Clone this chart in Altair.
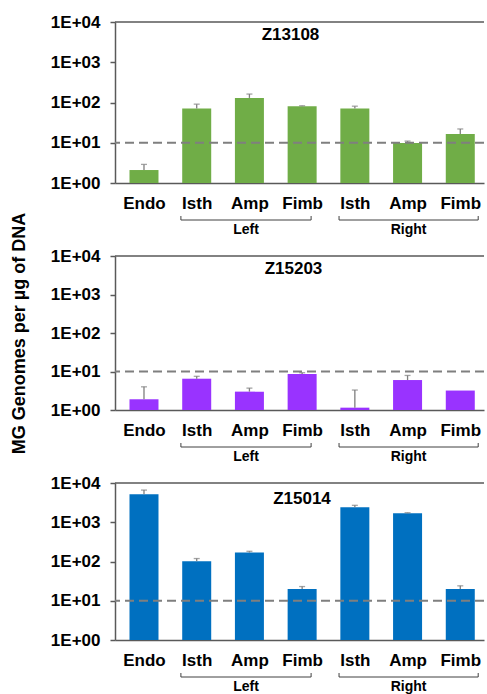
import altair as alt
import pandas as pd

# ---------------- data ----------------
categories = ["Endo", "Isth", "Amp", "Fimb", "Isth", "Amp", "Fimb"]
groups = ["Left", "Right"]
group_members = [[1, 2, 3], [4, 5, 6]]

strains = ["Z13108", "Z15203", "Z15014"]
z13108_mean = [2.1, 71, 130, 81, 71, 9.8, 16.5]
z13108_upper = [2.9, 91, 162, 83, 81, 11, 22]
z15203_mean = [1.9, 6.5, 3.0, 8.6, 1.15, 6.0, 3.2]
z15203_upper = [4.0, 7.5, 3.7, 9.3, 3.3, 7.9, 3.2]
z15014_mean = [5150, 102, 169, 20, 2400, 1700, 20]
z15014_upper = [6600, 119, 182, 23, 2700, 1750, 24]
threshold = 10
y_ticks = [1, 10, 100, 1000, 10000]

# ---------------- style ----------------
FONT = "Liberation Sans"
AXIS_COL = "#595959"
ERR_COL = "#7f7f7f"
W = 369
Y_TITLE = "MG Genomes per µg of DNA"

label_expr = "[" + ",".join("'%s'" % c for c in categories) + "][datum.value]"


def xenc(field):
    return alt.X(
        field,
        type="quantitative",
        scale=alt.Scale(domain=[-0.55, 6.45], nice=False, zero=False, padding=0),
        axis=alt.Axis(
            values=list(range(len(categories))),
            labelExpr=label_expr,
            ticks=False,
            tickSize=0,
            grid=False,
            title=None,
            labelFont=FONT,
            labelFontSize=17,
            labelFontWeight="bold",
            labelColor="black",
            labelPadding=12,
            labelFlush=False,
            labelOverlap=False,
            domainColor=AXIS_COL,
            domainWidth=1.5,
        ),
    )


def yenc(field, title):
    kw = dict(
        values=y_ticks,
        labelExpr="'1E+0' + round(log(datum.value) / LN10)",
        grid=False,
        tickSize=5,
        tickColor=AXIS_COL,
        tickWidth=1.5,
        labelFont=FONT,
        labelFontSize=17,
        labelFontWeight="bold",
        labelColor="black",
        labelPadding=10,
        domainColor=AXIS_COL,
        domainWidth=1.5,
    )
    if title:
        kw.update(title=title, titleFont=FONT, titleFontSize=18, titleFontWeight="bold",
                  titleColor="black", titlePadding=22)
    else:
        kw.update(title=None)
    return alt.Y(
        field,
        type="quantitative",
        stack=None,
        scale=alt.Scale(type="log", domain=[1, 10000], nice=False, padding=0),
        axis=alt.Axis(**kw),
    )


def panel(name, mean, upper, color, h, tx, ty, ytitle):
    df = pd.DataFrame({"idx": list(range(len(categories))), "cat": categories,
                       "value": mean, "hi": upper, "base": [1] * len(categories)})
    base = alt.Chart(df)
    bars = base.mark_bar(size=29, color=color, orient="vertical").encode(
        x=xenc("idx"), y=yenc("value", ytitle), y2="base:Q")
    err = base.transform_filter("datum.hi > datum.value").mark_rule(
        color=ERR_COL, strokeWidth=1.3).encode(
        x=xenc("idx"), y=yenc("value", ytitle), y2="hi:Q")
    cap = base.transform_filter("datum.hi > datum.value").mark_tick(
        orient="horizontal", size=6, thickness=1.3, color=ERR_COL).encode(
        x=xenc("idx"), y=yenc("hi", ytitle))
    thr = alt.Chart(pd.DataFrame({"t": [threshold]})).mark_rule(
        color=ERR_COL, strokeWidth=2, strokeDash=[9, 5]).encode(y=yenc("t", ytitle))
    top = alt.Chart(pd.DataFrame({"t": [y_ticks[-1]]})).mark_rule(
        color=AXIS_COL, strokeWidth=1.5).encode(y=yenc("t", ytitle))
    title = alt.Chart(pd.DataFrame({"name": [name]})).mark_text(
        font=FONT, fontSize=17, fontWeight="bold", color="black").encode(
        text="name:N", x=alt.value(tx), y=alt.value(ty))

    starts = [m[0] - 0.3 for m in group_members]
    ends = [m[-1] + 0.17 if i == 0 else m[-1] + 0.34 for i, m in enumerate(group_members)]
    bdf = pd.DataFrame({"group": groups, "start": starts, "end": ends,
                        "mid": [(a + b) / 2 for a, b in zip(starts, ends)]})
    edf = pd.DataFrame({"pos": starts + ends})
    bline = alt.Chart(bdf).mark_rule(color="#404040", strokeWidth=1).encode(
        x=xenc("start"), x2="end:Q", y=alt.value(h + 37))
    bends = alt.Chart(edf).mark_rule(color="#404040", strokeWidth=1).encode(
        x=xenc("pos"), y=alt.value(h + 33), y2=alt.value(h + 37))
    blab = alt.Chart(bdf).mark_text(font=FONT, fontSize=14, fontWeight="bold",
                                    color="black").encode(
        x=xenc("mid"), y=alt.value(h + 47), text="group:N")

    return alt.layer(bars, err, cap, thr, top, title, bline, bends, blab).properties(
        width=W, height=h)


p1 = panel(strains[0], z13108_mean, z13108_upper, "#70AD47", 161, 175.5, 13, None)
p2 = panel(strains[1], z15203_mean, z15203_upper, "#9933FF", 154, 178.5, 13, Y_TITLE)
p3 = panel(strains[2], z15014_mean, z15014_upper, "#0070C0", 157, 187, 16, None)

chart = alt.vconcat(p1, p2, p3, spacing=73, bounds="flush").properties(
    padding={"left": 10, "top": 13, "right": 0, "bottom": 0}
).configure_view(stroke=None)

chart.save("out.html", embed_options={"renderer": "svg", "actions": False})
